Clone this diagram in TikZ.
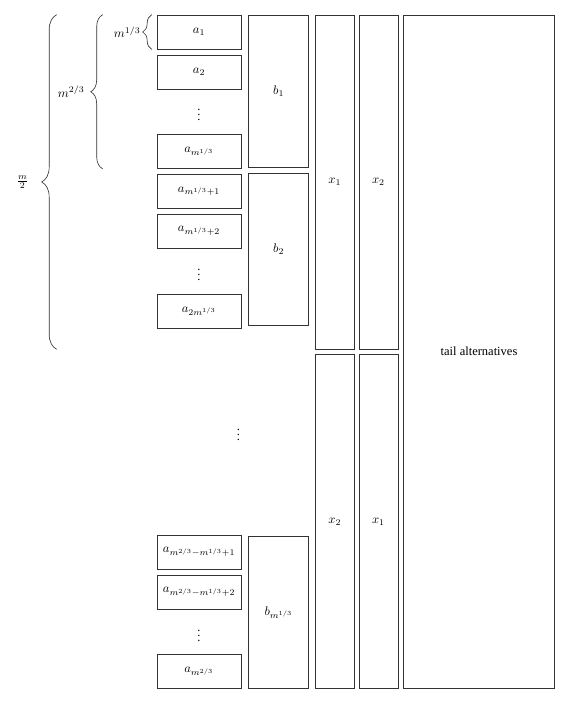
\documentclass[tikz,border=0pt]{standalone}
\usepackage{fontspec}
\setmainfont{Liberation Serif}
\usetikzlibrary{positioning,calc,decorations.pathreplacing}

\begin{document}
\begin{tikzpicture}[x=0.8pt,y=-0.8pt,node distance=4.2pt,
cell/.style={
% The shape:
rectangle,
% The size:
minimum width=67.2pt,minimum height=27.2pt,inner sep=0pt,
% The border:
draw=black!80,line width=0.5pt
}, gap/.style={
rectangle,minimum width=67.2pt,minimum height=27.2pt,inner sep=0pt},
group/.style={
% The shape:
rectangle,minimum width=48pt,minimum height=121.6pt,inner sep=0pt,
% The border
draw=black!80,line width=0.5pt},
column/.style={
rectangle,minimum width=31.2pt,minimum height=267.2pt,inner sep=0pt,
draw=black!80,line width=0.5pt},
tail/.style={
rectangle,minimum width=120.8pt,minimum height=538.4pt,inner sep=0pt,
draw=black!80,line width=0.5pt},
span/.style={
decorate,decoration={brace,amplitude=#1},
draw=black!80,line width=0.5pt}
]
\useasboundingbox (0,0) rectangle (567,703);

\node (a1) [cell] at (199,32) {$a_1$};
\node (a2) [cell, below=of a1] {$a_2$};
\node (a3) [gap, below=of a2] {$\vdots$};
\node (a4) [cell, below=of a3] {$a_{m^{1/3}}$};
\node (a5) [cell, below=of a4] {$a_{m^{1/3}+1}$};
\node (a6) [cell, below=of a5] {$a_{m^{1/3}+2}$};
\node (a7) [gap, below=of a6] {$\vdots$};
\node (a8) [cell, below=of a7] {$a_{2m^{1/3}}$};

\node (b1) [group, right=5.6pt of a1.north east, anchor=north west] {$b_1$};
\node (b2) [group, below=of b1] {$b_2$};

\node (xa) [column, right=4.8pt of b1.north east, anchor=north west] {$x_1$};
\node (xb) [column, right=3.2pt of xa] {$x_2$};
\node (xc) [column, below=4pt of xa] {$x_2$};
\node (xd) [column, below=4pt of xb] {$x_1$};
\node (t) [tail, right=4pt of xb.north east, anchor=north west] {tail alternatives};

\node (b3) [group, anchor=south west] at (b1.west |- xd.south) {$b_{m^{1/3}}$};
\node (c3) [cell, left=5.6pt of b3.south west, anchor=south east] {$a_{m^{2/3}}$};
\node (c2) [gap, above=of c3] {$\vdots$};
\node (c1) [cell, above=of c2] {$a_{m^{2/3}-m^{1/3}+2}$};
\node (c0) [cell, above=of c1] {$a_{m^{2/3}-m^{1/3}+1}$};

\node (d) at ($(a8.south east)!0.5!(c0.north east)+(-3,0)$) {$\vdots$};

% braces on the left
\draw[span=7.2pt] ([xshift=-4pt]a1.south west) -- ([xshift=-4pt]a1.north west)
  node (s1) [midway, left=8.8pt, inner sep=0pt] {$m^{1/3}$};
\draw[span=9.6pt] ([xshift=-43.2pt]a4.south west) -- ([xshift=-43.2pt]a1.north west)
  node (s2) [midway, left=14.4pt, inner sep=0pt] {$m^{2/3}$};
\draw[span=12pt] ([xshift=-80pt]a1.west |- xa.south) -- ([xshift=-80pt]a1.north west)
  node (s3) [midway, left=22.4pt, inner sep=0pt] {$\frac{m}{2}$};
\end{tikzpicture}
\end{document}
